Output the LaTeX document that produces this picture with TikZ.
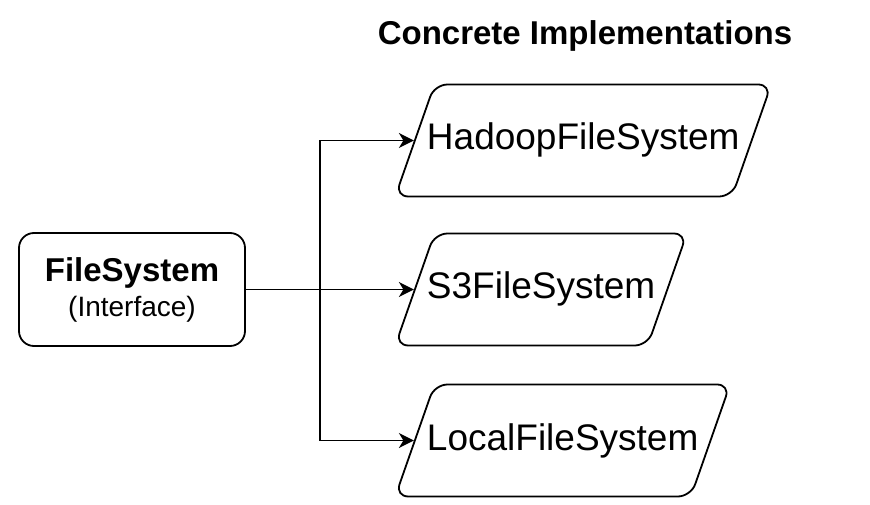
\documentclass[tikz,border=0pt]{standalone}
\usepackage{fontspec}
\setmainfont{Liberation Sans}
\usepackage{tikz}
\usetikzlibrary{positioning,shapes.geometric,arrows.meta}

\tikzset{
	iface/.style={draw, line width=1.8pt, rounded corners=15pt, align=center,
		minimum width=226pt, minimum height=113pt, inner sep=0pt,
		font=\fontsize{28}{35}\selectfont},
	impl/.style={draw, trapezium, trapezium left angle=70.7, trapezium right angle=109.3,
		rounded corners=13pt, line width=1.8pt,
		text height=27pt, text depth=8pt, inner xsep=-7.5pt, inner ysep=38.5pt,
		font=\fontsize{37}{44}\selectfont},
	heading/.style={font=\fontsize{33}{38}\selectfont\bfseries, anchor=base},
	conn/.style={line width=1.8pt, -{Stealth[length=15pt, width=15pt, inset=4.5pt]}}
}

\begin{document}
\begin{tikzpicture}
	\useasboundingbox (0,0) rectangle (870pt,504pt);

	%% interface
	\node[iface](fs) at (132pt,214.5pt){{\fontsize{33}{35}\selectfont\bfseries FileSystem}\\(Interface)};

	%% implementations
	\node[heading](title) at (585pt,459pt){Concrete Implementations};
	\node[impl, right=168pt of fs, anchor=left side](s3){S3FileSystem};
	\node[impl, above=149pt of s3.left side, anchor=left side](hadoop){HadoopFileSystem};
	\node[impl, below=151pt of s3.left side, anchor=left side](local){LocalFileSystem};

	%% connectors
	\coordinate[right=74pt of fs.east](split);
	\draw[conn] (fs.east) -- (s3.left side);
	\draw[conn] (split) |- (hadoop.left side);
	\draw[conn] (split) |- (local.left side);
\end{tikzpicture}
\end{document}
